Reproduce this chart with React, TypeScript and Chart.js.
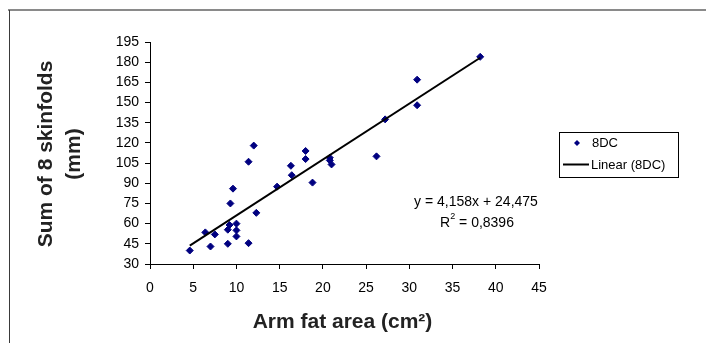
import React, { useEffect, useRef } from "react";
import { Chart, registerables } from "chart.js";

Chart.register(...registerables);

// Arm fat area (cm²)
const armFatArea: number[] = [
  4.6, 6.4, 7.0, 7.5, 9.0, 9.0, 9.2, 9.3, 9.6, 10.0, 10.0, 10.0, 11.4, 11.4, 12.0,
  12.3, 14.7, 16.3, 16.4, 18.0, 18.0, 18.8, 20.8, 20.8, 21.0, 26.2, 27.2, 30.9, 30.9, 38.2,
];
// Sum of 8 skinfolds (mm)
const skinfolds: number[] = [
  40, 53.5, 43, 52, 45, 55.5, 59, 75, 86, 60, 55, 50.5, 106, 45.5, 118,
  68, 87.5, 103, 96, 114, 108, 90.5, 109, 107, 104, 110, 137.5, 167, 148, 184,
];
const seriesLabel = "8DC";
const trendLabel = "Linear (8DC)";
const trendSlope = 4.158;
const trendIntercept = 24.475;
const equationText = "y = 4,158x + 24,475";
const r2Text = "0,8396";
const xTitle = "Arm fat area (cm²)";
const yTitleLines = ["Sum of 8 skinfolds", "(mm)"];
const xTicks = { min: 0, max: 45, step: 5 };
const yTicks = { min: 30, max: 195, step: 15 };

const FONT = "'Liberation Sans', Arial, sans-serif";
const POINT_COLOR = "#000080";

export default function App() {
  const ref = useRef<HTMLCanvasElement | null>(null);

  useEffect(() => {
    const canvas = ref.current;
    if (!canvas) return;

    const xMin = Math.min(...armFatArea);
    const xMax = Math.max(...armFatArea);
    const trendData = [
      { x: xMin, y: trendSlope * xMin + trendIntercept },
      { x: xMax, y: trendSlope * xMax + trendIntercept },
    ];

    const decor = {
      id: "decor",
      afterDraw(chart: any) {
        const ctx = chart.ctx as CanvasRenderingContext2D;
        const area = chart.chartArea;
        ctx.save();
        // outer frame
        ctx.strokeStyle = "#8a8a8a";
        ctx.lineWidth = 2;
        ctx.beginPath();
        ctx.moveTo(8, 10);
        ctx.lineTo(706, 10);
        ctx.stroke();
        ctx.strokeStyle = "#3a3a3a";
        ctx.lineWidth = 1;
        ctx.beginPath();
        ctx.moveTo(9.5, 10);
        ctx.lineTo(9.5, 343);
        ctx.stroke();

        // axis titles
        ctx.fillStyle = "#222";
        ctx.font = `bold 21px ${FONT}`;
        ctx.textAlign = "center";
        ctx.textBaseline = "middle";
        ctx.fillText(xTitle, (area.left + area.right) / 2 - 2, 322);

        ctx.save();
        ctx.translate(46, 154);
        ctx.rotate(-Math.PI / 2);
        ctx.fillText(yTitleLines[0], 0, 0);
        ctx.fillText(yTitleLines[1], 0, 28);
        ctx.restore();

        // equation
        ctx.fillStyle = "#000";
        ctx.font = `14px ${FONT}`;
        ctx.textAlign = "center";
        ctx.fillText(equationText, 476, 202);
        const rMain = "R";
        const rRest = " = " + r2Text;
        const wR = ctx.measureText(rMain).width;
        ctx.font = `9px ${FONT}`;
        const wSup = ctx.measureText("2").width;
        ctx.font = `14px ${FONT}`;
        const wRest = ctx.measureText(rRest).width;
        const total = wR + wSup + wRest;
        const x0 = 477 - total / 2;
        ctx.textAlign = "left";
        ctx.fillText(rMain, x0, 223);
        ctx.font = `9px ${FONT}`;
        ctx.fillText("2", x0 + wR, 217);
        ctx.font = `14px ${FONT}`;
        ctx.fillText(rRest, x0 + wR + wSup, 223);

        // legend
        ctx.strokeStyle = "#000";
        ctx.lineWidth = 1;
        ctx.strokeRect(559.5, 132.5, 119, 45);
        ctx.fillStyle = POINT_COLOR;
        ctx.beginPath();
        ctx.moveTo(577, 140);
        ctx.lineTo(580, 143);
        ctx.lineTo(577, 146);
        ctx.lineTo(574, 143);
        ctx.closePath();
        ctx.fill();
        ctx.strokeStyle = "#000";
        ctx.lineWidth = 2;
        ctx.beginPath();
        ctx.moveTo(563, 164.5);
        ctx.lineTo(589, 164.5);
        ctx.stroke();
        ctx.fillStyle = "#000";
        ctx.font = `13px ${FONT}`;
        ctx.textAlign = "left";
        ctx.textBaseline = "middle";
        ctx.fillText(seriesLabel, 592, 143);
        ctx.fillText(trendLabel, 591, 165);
        ctx.restore();
      },
    };

    const chart = new Chart(canvas, {
      type: "scatter",
      data: {
        datasets: [
          {
            label: seriesLabel,
            data: armFatArea.map((x, i) => ({ x, y: skinfolds[i] })),
            pointStyle: "rectRot",
            pointRadius: 3.5,
            backgroundColor: POINT_COLOR,
            borderColor: POINT_COLOR,
            borderWidth: 1,
            showLine: false,
            order: 2,
          },
          {
            type: "line" as any,
            label: trendLabel,
            data: trendData,
            borderColor: "#000",
            borderWidth: 2,
            pointRadius: 0,
            showLine: true,
            fill: false,
            order: 1,
          },
        ],
      },
      options: {
        animation: false,
        responsive: false,
        events: [],
        layout: { padding: { left: 0, top: 42, right: 706 - 539, bottom: 0 } },
        plugins: { legend: { display: false }, tooltip: { enabled: false } },
        scales: {
          x: {
            type: "linear",
            min: xTicks.min,
            max: xTicks.max,
            afterFit: (s: any) => { s.height = 343 - 264; },
            ticks: {
              stepSize: xTicks.step,
              color: "#000",
              font: { family: FONT, size: 14 },
              padding: 11,
              maxRotation: 0,
            },
            grid: { drawOnChartArea: false, drawTicks: true, tickLength: 5, color: "#000" },
            border: { display: true, color: "#000", width: 1 },
          },
          y: {
            type: "linear",
            min: yTicks.min,
            max: yTicks.max,
            afterFit: (s: any) => { s.width = 150; },
            ticks: {
              stepSize: yTicks.step,
              color: "#000",
              font: { family: FONT, size: 14 },
              padding: 6,
            },
            grid: { drawOnChartArea: false, drawTicks: true, tickLength: 5, color: "#000" },
            border: { display: true, color: "#000", width: 1 },
          },
        },
      },
      plugins: [decor],
    } as any);

    return () => chart.destroy();
  }, []);

  return (
    <div style={{ position: "fixed", left: 0, top: 0, width: 706, height: 343, background: "#fff" }}>
      <canvas ref={ref} width={706} height={343} style={{ width: 706, height: 343, display: "block" }} />
    </div>
  );
}
